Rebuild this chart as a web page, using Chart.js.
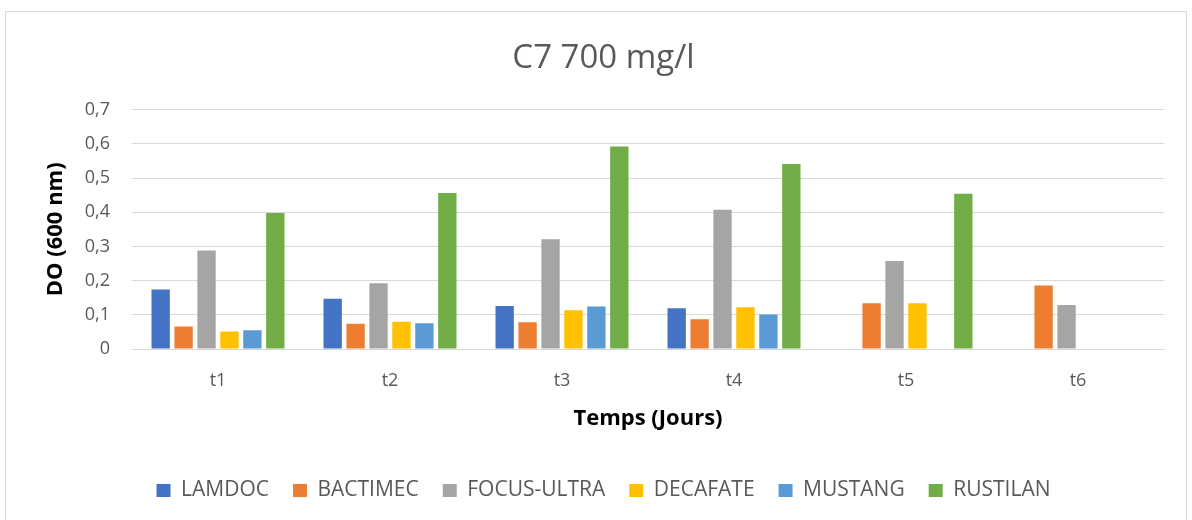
<!DOCTYPE html>
<html>
<head>
<meta charset="utf-8">
<script src="https://cdn.jsdelivr.net/npm/chart.js@4"></script>
<style>
  html, body { margin:0; padding:0; background:#fff; }
  #wrap { position:relative; width:1192px; height:520px; overflow:hidden; }
  #frame { position:absolute; left:5px; top:11px; width:1182px; height:540px; border:1px solid #d9d9d9; box-sizing:border-box; }
  #chart { position:absolute; left:0; top:0; }
</style>
</head>
<body>
<div id="wrap">
  <div id="frame"></div>
  <canvas id="chart" width="1192" height="520"></canvas>
</div>
<script>
  const categories = ['t1','t2','t3','t4','t5','t6'];
  const seriesNames = ['LAMDOC','BACTIMEC','FOCUS-ULTRA','DECAFATE','MUSTANG','RUSTILAN'];
  const seriesColors = ['#4472c4','#ed7d31','#a5a5a5','#ffc000','#5b9bd5','#70ad47'];

  const lamdoc     = [0.174, 0.147, 0.126, 0.119, null,  null];
  const bactimec   = [0.066, 0.074, 0.078, 0.087, 0.134, 0.186];
  const focusUltra = [0.288, 0.192, 0.321, 0.407, 0.257, 0.129];
  const decafate   = [0.051, 0.080, 0.113, 0.122, 0.134, null];
  const mustang    = [0.055, 0.075, 0.124, 0.101, null,  null];
  const rustilan   = [0.398, 0.456, 0.592, 0.541, 0.454, null];

  const yTicks = [0, 0.1, 0.2, 0.3, 0.4, 0.5, 0.6, 0.7];

  const values = [lamdoc, bactimec, focusUltra, decafate, mustang, rustilan];
  const FONT = "'Open Sans', 'Noto Sans', sans-serif";

  const datasets = seriesNames.map((name, i) => ({
    label: name,
    data: values[i],
    backgroundColor: seriesColors[i],
    borderWidth: 0,
    categoryPercentage: 0.8,
    barPercentage: 0.8
  }));

  new Chart(document.getElementById('chart'), {
    type: 'bar',
    data: { labels: categories, datasets },
    options: {
      responsive: false,
      animation: false,
      layout: { padding: { left: 43, right: 28, top: 39, bottom: 9 } },
      plugins: {
        title: {
          display: true,
          text: 'C7 700 mg/l',
          color: '#595959',
          font: { family: FONT, size: 33, weight: 'normal' },
          padding: { top: 0, bottom: 31 }
        },
        legend: {
          position: 'bottom',
          labels: {
            color: '#595959',
            font: { family: FONT, size: 21 },
            boxWidth: 14, boxHeight: 13,
            padding: 24
          }
        },
        tooltip: { enabled: false }
      },
      scales: {
        x: {
          afterFit: axis => { axis.height = 107; },
          grid: { display: false, drawTicks: false },
          border: { color: '#d9d9d9' },
          ticks: { color: '#595959', font: { family: FONT, size: 18 }, padding: 21 },
          title: {
            display: true, text: 'Temps (Jours)', color: '#000',
            font: { family: FONT, size: 22, weight: 'bold' },
            padding: { top: 0, bottom: 24 }
          }
        },
        y: {
          min: 0, max: 0.7,
          afterBuildTicks: axis => { axis.ticks = yTicks.map(v => ({ value: v })); },
          afterFit: axis => { axis.width = 89; },
          grid: { color: '#d9d9d9', drawTicks: false },
          border: { display: false },
          ticks: {
            color: '#595959', font: { family: FONT, size: 18 }, padding: 22,
            callback: v => v === 0 ? '0' : v.toFixed(1).replace('.', ',')
          },
          title: {
            display: true, text: 'DO (600 nm)', color: '#000',
            font: { family: FONT, size: 22, weight: 'bold' },
            padding: { top: 0, bottom: 14 }
          }
        }
      }
    }
  });
</script>
</body>
</html>
